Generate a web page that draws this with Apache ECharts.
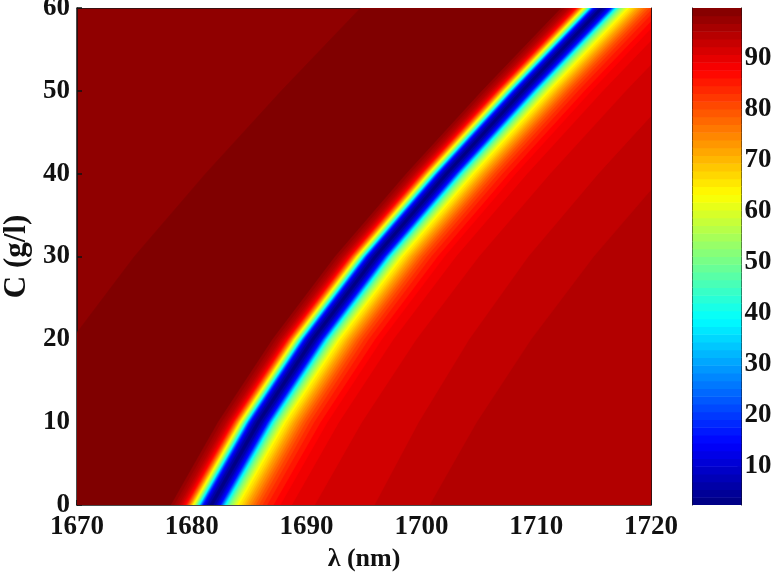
<!DOCTYPE html>
<html><head><meta charset="utf-8">
<style>html,body{margin:0;padding:0;background:#fff}#c{width:774px;height:574px}</style>
<script src="https://cdn.jsdelivr.net/npm/echarts@6/dist/echarts.min.js"></script>
</head><body><div id="c"></div>
<script>
// Axis ticks
const wavelengthTicks = [1670,1680,1690,1700,1710,1720];
const concentrationTicks = [0,10,20,30,40,50,60];
const colorbarTicks = [10,20,30,40,50,60,70,80,90];
// Colour scale limits
const colorMin = 2.4, colorMax = 99.8;
// Transmission in the region outside every contour (upper left)
const outerLevel = 98.2;
// Rows of concentration at which the iso-level crossings were read
const concentrationRows = [0,10,20,30,40,50,60];
// Filled iso-levels, drawn from the outermost to the innermost
const levels = [99.8,97.5,96,95,93.5,92,90.5,89,87.5,85.5,83.5,81.5,79.5,77.5,75.5,73.5,71.5,69.5,67.5,65.5,63.5,60,57,54,51,48,45,42,39,35,31,27,23,19,15,12,9,6,3];
// Left (short wavelength) crossing of each level, per row
const leftC0 = [1660.7,1678.2,1678.5,1678.7,1678.9,1679.05,1679.2,1679.3,1679.4,1679.5,1679.57,1679.64,1679.7,1679.76,1679.82,1679.88,1679.93,1679.98,1680.03,1680.08,1680.13,1680.21,1680.28,1680.35,1680.42,1680.48,1680.53,1680.59,1680.64,1680.7,1680.75,1680.8,1680.86,1680.92,1681.0,1681.1,1681.22,1681.35,1681.55];
const leftC10 = [1664.8,1682.3,1682.6,1682.8,1683.0,1683.15,1683.3,1683.4,1683.5,1683.6,1683.67,1683.74,1683.8,1683.86,1683.92,1683.98,1684.03,1684.08,1684.13,1684.18,1684.23,1684.31,1684.38,1684.45,1684.52,1684.58,1684.63,1684.69,1684.74,1684.8,1684.85,1684.9,1684.96,1685.02,1685.1,1685.2,1685.32,1685.45,1685.65];
const leftC20 = [1669.55,1687.05,1687.35,1687.55,1687.75,1687.9,1688.05,1688.15,1688.25,1688.35,1688.42,1688.49,1688.55,1688.61,1688.67,1688.73,1688.78,1688.83,1688.88,1688.93,1688.98,1689.06,1689.13,1689.2,1689.27,1689.33,1689.38,1689.44,1689.49,1689.55,1689.6,1689.65,1689.71,1689.77,1689.85,1689.95,1690.07,1690.2,1690.4];
const leftC30 = [1675.0,1692.5,1692.8,1693.0,1693.2,1693.35,1693.5,1693.6,1693.7,1693.8,1693.87,1693.94,1694.0,1694.06,1694.12,1694.18,1694.23,1694.28,1694.33,1694.38,1694.43,1694.51,1694.58,1694.65,1694.72,1694.78,1694.83,1694.89,1694.94,1695.0,1695.05,1695.1,1695.16,1695.22,1695.3,1695.4,1695.52,1695.65,1695.85];
const leftC40 = [1681.2,1698.7,1699.0,1699.2,1699.4,1699.55,1699.7,1699.8,1699.9,1700.0,1700.07,1700.14,1700.2,1700.26,1700.32,1700.38,1700.43,1700.48,1700.53,1700.58,1700.63,1700.71,1700.78,1700.85,1700.92,1700.98,1701.03,1701.09,1701.14,1701.2,1701.25,1701.3,1701.36,1701.42,1701.5,1701.6,1701.72,1701.85,1702.05];
const leftC50 = [1687.8,1705.3,1705.6,1705.8,1706.0,1706.15,1706.3,1706.4,1706.5,1706.6,1706.67,1706.74,1706.8,1706.86,1706.92,1706.98,1707.03,1707.08,1707.13,1707.18,1707.23,1707.31,1707.38,1707.45,1707.52,1707.58,1707.63,1707.69,1707.74,1707.8,1707.85,1707.9,1707.96,1708.02,1708.1,1708.2,1708.32,1708.45,1708.65];
const leftC60 = [1694.7,1712.2,1712.5,1712.7,1712.9,1713.05,1713.2,1713.3,1713.4,1713.5,1713.57,1713.64,1713.7,1713.76,1713.82,1713.88,1713.93,1713.98,1714.03,1714.08,1714.13,1714.21,1714.28,1714.35,1714.42,1714.48,1714.53,1714.59,1714.64,1714.7,1714.75,1714.8,1714.86,1714.92,1715.0,1715.1,1715.22,1715.35,1715.55];
// Right (long wavelength) crossing of each level, per row; 1740 = beyond the plot
const rightC0 = [1740,1740,1740,1740,1700.7,1695.9,1690.7,1688.7,1687.7,1687.1,1686.55,1686.15,1685.82,1685.55,1685.32,1685.1,1684.88,1684.68,1684.5,1684.3,1684.08,1683.9,1683.72,1683.56,1683.4,1683.26,1683.15,1683.05,1682.96,1682.88,1682.8,1682.72,1682.65,1682.57,1682.48,1682.33,1682.2,1682.06,1681.85];
const rightC10 = [1740,1740,1740,1740,1704.8,1699.75,1694.8,1692.8,1691.8,1691.2,1690.65,1690.25,1689.92,1689.65,1689.42,1689.2,1688.98,1688.78,1688.6,1688.4,1688.18,1688.0,1687.82,1687.66,1687.5,1687.36,1687.25,1687.15,1687.06,1686.98,1686.9,1686.82,1686.75,1686.67,1686.58,1686.43,1686.3,1686.16,1685.95];
const rightC20 = [1740,1740,1740,1740,1709.55,1704.15,1699.55,1697.55,1696.55,1695.95,1695.4,1695.0,1694.67,1694.4,1694.17,1693.95,1693.73,1693.53,1693.35,1693.15,1692.93,1692.75,1692.57,1692.41,1692.25,1692.11,1692.0,1691.9,1691.81,1691.73,1691.65,1691.57,1691.5,1691.42,1691.33,1691.18,1691.05,1690.91,1690.7];
const rightC30 = [1740,1740,1740,1740,1715.0,1709.3,1705.0,1703.0,1702.0,1701.4,1700.85,1700.45,1700.12,1699.85,1699.62,1699.4,1699.18,1698.98,1698.8,1698.6,1698.38,1698.2,1698.02,1697.86,1697.7,1697.56,1697.45,1697.35,1697.26,1697.18,1697.1,1697.02,1696.95,1696.87,1696.78,1696.63,1696.5,1696.36,1696.15];
const rightC40 = [1740,1740,1740,1740,1721.2,1715.4,1711.2,1709.2,1708.2,1707.6,1707.05,1706.65,1706.32,1706.05,1705.82,1705.6,1705.38,1705.18,1705.0,1704.8,1704.58,1704.4,1704.22,1704.06,1703.9,1703.76,1703.65,1703.55,1703.46,1703.38,1703.3,1703.22,1703.15,1703.07,1702.98,1702.83,1702.7,1702.56,1702.35];
const rightC50 = [1740,1740,1740,1740,1727.8,1722.0,1717.8,1715.8,1714.8,1714.2,1713.65,1713.25,1712.92,1712.65,1712.42,1712.2,1711.98,1711.78,1711.6,1711.4,1711.18,1711.0,1710.82,1710.66,1710.5,1710.36,1710.25,1710.15,1710.06,1709.98,1709.9,1709.82,1709.75,1709.67,1709.58,1709.43,1709.3,1709.16,1708.95];
const rightC60 = [1740,1740,1740,1740,1734.7,1728.9,1724.7,1722.7,1721.7,1721.1,1720.55,1720.15,1719.82,1719.55,1719.32,1719.1,1718.88,1718.68,1718.5,1718.3,1718.08,1717.9,1717.72,1717.56,1717.4,1717.26,1717.15,1717.05,1716.96,1716.88,1716.8,1716.72,1716.65,1716.57,1716.48,1716.33,1716.2,1716.06,1715.85];

const leftRows = [leftC0,leftC10,leftC20,leftC30,leftC40,leftC50,leftC60];
const rightRows = [rightC0,rightC10,rightC20,rightC30,rightC40,rightC50,rightC60];

function jet(v){
  const t=(v-colorMin)/(colorMax-colorMin);
  const c=x=>Math.round(255*Math.max(0,Math.min(1,x)));
  return 'rgb('+c(Math.min(4*t-1.5,-4*t+4.5))+','+c(Math.min(4*t-0.5,-4*t+3.5))+','+c(Math.min(4*t+0.5,-4*t+2.5))+')';
}
// 64 colour bands of the colour bar
const bandCount = 64;
const bandIndex = Array.from({length:bandCount},(_,i)=>i);
const serif = '"Liberation Serif","Times New Roman",serif';
const ink = '#111';
const labelStyle = {fontFamily:serif,fontWeight:'bold',fontSize:27,color:ink};

const chart = echarts.init(document.getElementById('c'),null,{renderer:'canvas'});
chart.setOption({
  animation:false,
  backgroundColor:'#fff',
  grid:[
    {left:77,top:8,width:574,height:497,show:true,backgroundColor:jet(outerLevel),borderWidth:0,outerBoundsMode:'none'},
    {left:692.5,top:8,width:49,height:497,show:false,outerBoundsMode:'none'}
  ],
  xAxis:[
    {gridIndex:0,type:'value',min:1670,max:1720,interval:10,position:'bottom',
     name:'λ (nm)',nameLocation:'middle',nameGap:39,
     nameTextStyle:{fontFamily:serif,fontWeight:'bold',fontSize:26,color:ink},
     axisLine:{show:true,onZero:false,lineStyle:{color:ink,width:1.5}},
     axisTick:{show:true,inside:true,length:5,lineStyle:{color:ink,width:1.5}},
     axisLabel:{...labelStyle,margin:9,customValues:wavelengthTicks,formatter:v=>String(v)},
     splitLine:{show:false}},
    {gridIndex:0,type:'value',min:1670,max:1720,interval:10,position:'top',
     axisLine:{show:true,onZero:false,lineStyle:{color:'#3a1010',width:1}},
     axisTick:{show:false},axisLabel:{show:false},splitLine:{show:false}},
    {gridIndex:1,type:'value',min:0,max:1,show:false}
  ],
  yAxis:[
    {gridIndex:0,type:'value',min:0,max:60,interval:10,position:'left',
     name:'C (g/l)',nameLocation:'middle',nameGap:44,nameRotate:90,
     nameTextStyle:{fontFamily:serif,fontWeight:'bold',fontSize:31,color:ink},
     axisLine:{show:true,onZero:false,lineStyle:{color:ink,width:1.5}},
     axisTick:{show:true,inside:true,length:5,lineStyle:{color:ink,width:1.5}},
     axisLabel:{...labelStyle,margin:7,customValues:concentrationTicks,formatter:v=>String(v)},
     splitLine:{show:false}},
    {gridIndex:0,type:'value',min:0,max:60,interval:10,position:'right',
     axisLine:{show:true,onZero:false,lineStyle:{color:'#3a1010',width:1}},
     axisTick:{show:false},axisLabel:{show:false},splitLine:{show:false}},
    {gridIndex:1,type:'value',min:colorMin,max:colorMax,position:'right',
     axisLine:{show:true,onZero:false,lineStyle:{color:ink,width:1}},
     axisTick:{show:true,inside:true,length:4,customValues:colorbarTicks,lineStyle:{color:ink,width:1.5}},
     axisLabel:{...labelStyle,margin:3,customValues:colorbarTicks,formatter:v=>String(v)},
     splitLine:{show:false}},
    {gridIndex:1,type:'value',min:colorMin,max:colorMax,position:'left',
     axisLine:{show:true,onZero:false,lineStyle:{color:ink,width:1}},
     axisTick:{show:true,inside:true,length:3,customValues:colorbarTicks,lineStyle:{color:ink,width:1.5}},
     axisLabel:{show:false},splitLine:{show:false}}
  ],
  series:[
    {type:'custom',name:'T (%)',xAxisIndex:0,yAxisIndex:0,clip:true,z:1,silent:true,
     coordinateSystem:'cartesian2d',
     data:levels.map((v,i)=>[i,v]),
     encode:{x:[],y:[]},
     renderItem:function(params,api){
       const i=params.dataIndex, pts=[];
       concentrationRows.forEach((c,j)=>pts.push(api.coord([leftRows[j][i],c])));
       for(let j=concentrationRows.length-1;j>=0;j--) pts.push(api.coord([rightRows[j][i],concentrationRows[j]]));
       return {type:'polygon',shape:{points:pts},style:{fill:jet(levels[i]),stroke:jet(levels[i]),lineWidth:0.5}};
     }},
    {type:'custom',name:'colour bar',xAxisIndex:2,yAxisIndex:2,clip:true,z:1,silent:true,
     coordinateSystem:'cartesian2d',
     data:bandIndex.map(i=>[0,i]),
     encode:{x:[],y:[]},
     renderItem:function(params,api){
       const i=params.dataIndex, step=(colorMax-colorMin)/bandCount;
       const lo=colorMin+i*step, hi=lo+step;
       const a=api.coord([0,lo]), b=api.coord([1,hi]);
       return {type:'rect',shape:{x:a[0],y:b[1],width:b[0]-a[0],height:a[1]-b[1]+0.5},style:{fill:jet(lo+step/2)}};
     }}
  ]
});
</script></body></html>
